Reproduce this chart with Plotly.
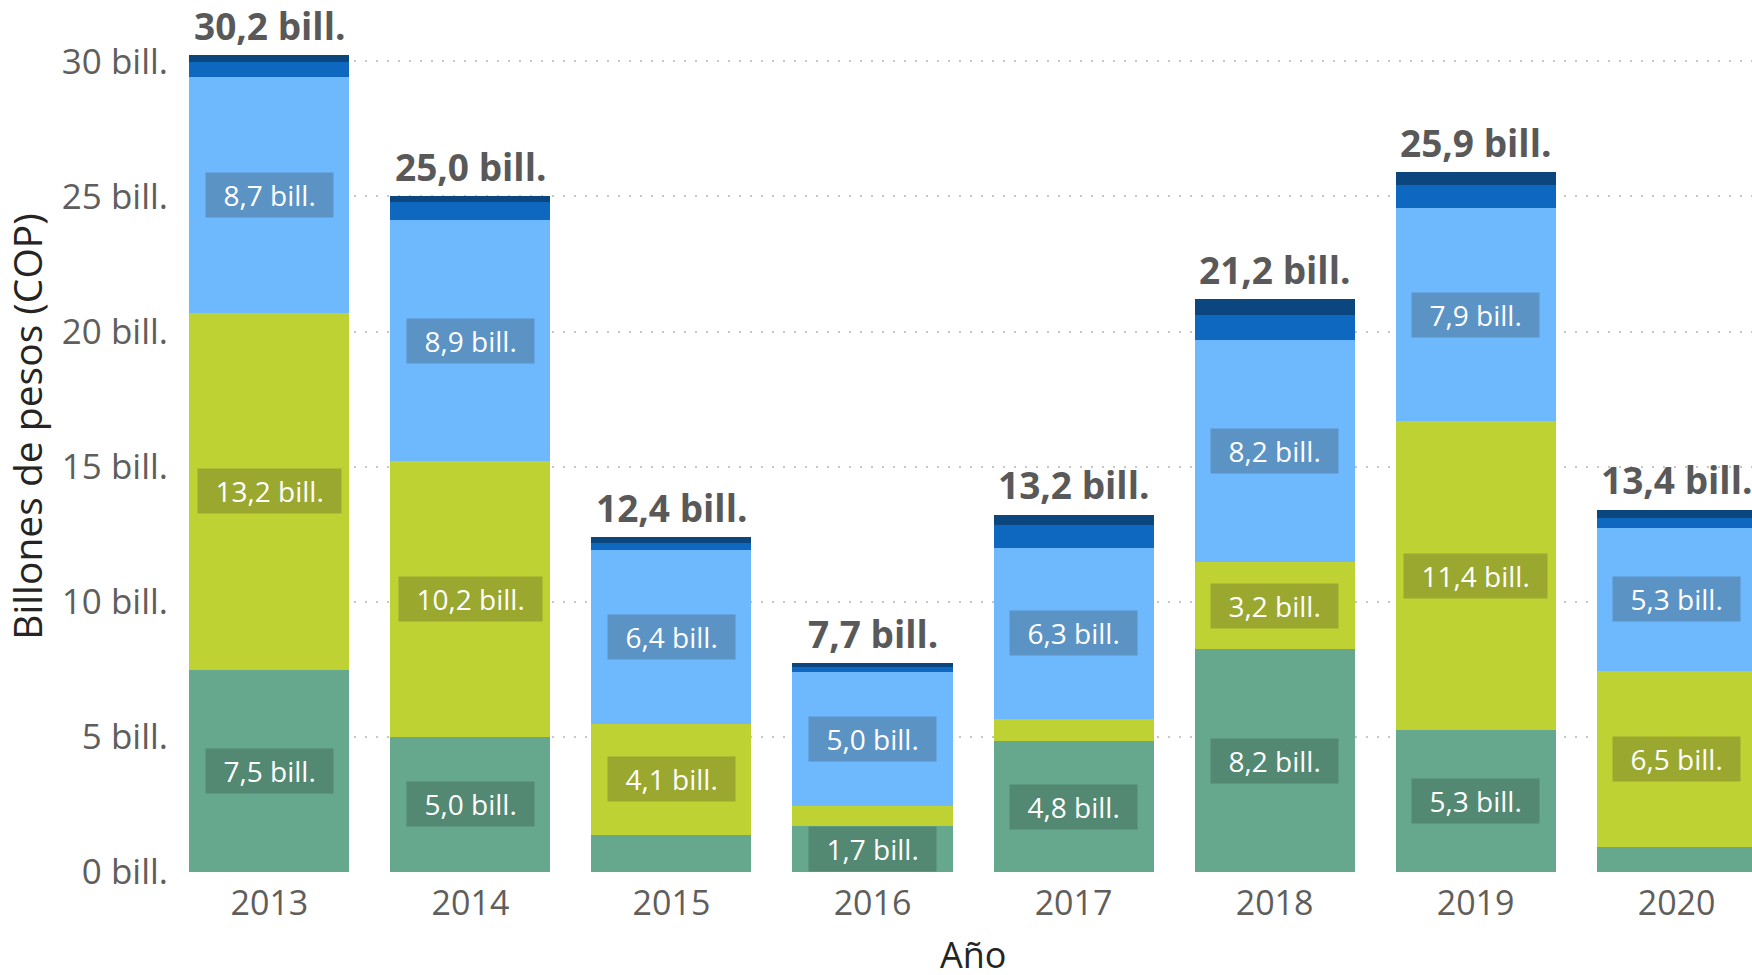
import plotly.graph_objects as go

# ---------------- data ----------------
years = ["2013", "2014", "2015", "2016", "2017", "2018", "2019", "2020"]
comp_1 = [7.48, 5.00, 1.37, 1.72, 4.83, 8.24, 5.26, 0.91]    # verde
comp_2 = [13.22, 10.20, 4.12, 0.72, 0.84, 3.23, 11.42, 6.54]  # oliva
comp_3 = [8.72, 8.92, 6.42, 4.98, 6.32, 8.21, 7.88, 5.28]     # azul claro
comp_4 = [0.55, 0.68, 0.25, 0.16, 0.84, 0.93, 0.88, 0.37]     # azul medio
comp_5 = [0.25, 0.20, 0.22, 0.14, 0.39, 0.58, 0.46, 0.31]     # azul oscuro
y_ticks = [0, 5, 10, 15, 20, 25, 30]
y_tick_labels = ["0 bill.", "5 bill.", "10 bill.", "15 bill.", "20 bill.", "25 bill.", "30 bill."]

series = [
    ("Componente 1", comp_1, "#66A88D", "#538872"),
    ("Componente 2", comp_2, "#BED333", "#9AA830"),
    ("Componente 3", comp_3, "#6EB9FE", "#5C93C5"),
    ("Componente 4", comp_4, "#0E68C0", None),
    ("Componente 5", comp_5, "#0B467F", None),
]

def fmt(v):
    return f"{v:.1f}".replace(".", ",") + " bill."

NB = "\u00a0"
fig = go.Figure()
annotations = []
base = [0.0] * len(years)
for name, vals, color, boxcol in series:
    fig.add_trace(go.Bar(
        x=list(range(len(years))), y=vals, name=name,
        marker=dict(color=color, line=dict(width=0)),
        hoverinfo="skip",
    ))
    if boxcol is not None:
        for i, v in enumerate(vals):
            if v >= 1.5:
                annotations.append(dict(
                    x=i, y=base[i] + v / 2, xref="x", yref="y",
                    text=NB + NB + fmt(v) + NB + NB, showarrow=False,
                    font=dict(family="Open Sans", size=28, color="#FFFFFF"),
                    bgcolor=boxcol, borderpad=3,
                    xanchor="center", yanchor="middle",
                ))
    base = [b + v for b, v in zip(base, vals)]

for i, tot in enumerate(base):
    annotations.append(dict(
        x=i, y=tot, xref="x", yref="y", text="<b>" + fmt(tot) + "</b>",
        showarrow=False, yshift=30,
        font=dict(family="Open Sans", size=37, color="#595959"),
        xanchor="center", yanchor="middle",
    ))

annotations.append(dict(
    x=-0.104, y=0.517, xref="paper", yref="paper", text="Billones de pesos (COP)",
    textangle=-90, showarrow=False,
    font=dict(family="Open Sans", size=39, color="#252423"),
    xanchor="center", yanchor="middle",
))
annotations.append(dict(
    x=0.5016, y=-0.096, xref="paper", yref="paper", text="Año",
    showarrow=False,
    font=dict(family="Open Sans", size=36, color="#252423"),
    xanchor="center", yanchor="middle",
))

fig.update_layout(
    barmode="stack",
    bargap=0.204,
    width=1752, height=975,
    margin=dict(l=189, r=0, t=10, b=103, pad=0),
    paper_bgcolor="white", plot_bgcolor="white",
    showlegend=False,
    annotations=annotations,
    xaxis=dict(
        range=[-0.4, 7.375],
        tickvals=list(range(len(years))), ticktext=years,
        tickfont=dict(family="Open Sans", size=34, color="#605E5C"),
        showgrid=False, zeroline=False, showline=False,
        ticks="outside", ticklen=1, tickcolor="rgba(0,0,0,0)",
        fixedrange=True,
    ),
    yaxis=dict(
        range=[0, 31.9],
        tickvals=y_ticks, ticktext=y_tick_labels,
        tickfont=dict(family="Open Sans", size=35, color="#605E5C"),
        showgrid=True, gridcolor="#C8C6C4", gridwidth=1.5, griddash="2px,9px",
        zeroline=False, showline=False,
        ticks="outside", ticklen=13, tickcolor="rgba(0,0,0,0)",
        fixedrange=True,
    ),
)

fig.write_html(
    "out.html",
    config={"displayModeBar": False},
    post_script="document.body.style.margin='0';document.body.style.overflow='hidden';",
)
